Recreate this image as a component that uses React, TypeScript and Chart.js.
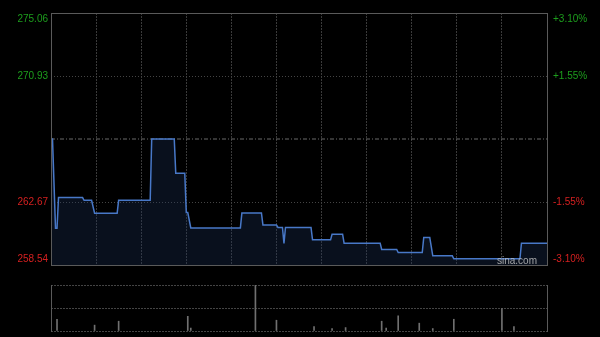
import React, { useEffect, useRef } from 'react';
import { Chart, registerables } from 'chart.js';

Chart.register(...registerables);

// ---- data ----
const prevClose = 266.8;
const priceMin = 258.54;
const priceMax = 275.06;
const priceTicks = [258.54, 262.67, 266.8, 270.93, 275.06];
const priceTickLabels = ['258.54', '262.67', '', '270.93', '275.06'];
const pctTickLabels = ['-3.10%', '-1.55%', '', '+1.55%', '+3.10%'];
const sessionMinutes = 330; // 09:30-12:00 + 13:00-16:00
const gridStepMinutes = 30;

const minuteTimes = [
  0, 1, 3, 4, 5, 21, 22, 27, 29, 44, 45, 66, 67, 82, 83, 89, 90, 91, 93, 126,
  127, 140, 141, 150, 151, 154, 155, 156, 173, 174, 186, 187, 194, 195, 219,
  220, 230, 231, 247, 248, 252, 254, 267, 268, 312, 313, 330,
];
const minutePrices = [
  266.8, 266.8, 260.95, 260.95, 262.96, 262.96, 262.78, 262.78, 261.93, 261.93,
  262.78, 262.78, 266.8, 266.8, 264.56, 264.56, 261.98, 261.98, 260.97, 260.97,
  261.95, 261.95, 261.17, 261.17, 261.0, 261.0, 259.95, 261.0, 261.0, 260.19,
  260.19, 260.56, 260.56, 259.97, 259.97, 259.56, 259.56, 259.36, 259.36,
  260.34, 260.34, 259.14, 259.14, 258.95, 258.95, 259.97, 259.97,
];

const volumeTimes = [4, 29, 45, 91, 93, 136, 150, 175, 187, 196, 220, 223, 231, 245, 254, 268, 300, 308];
const volumes = [12, 6, 10, 15, 3, 47, 11, 4.5, 2.5, 3.5, 10, 3, 15.5, 8, 2.5, 12, 23, 4.5];
const volumeMax = 47;

const watermark = 'sina.com';

// ---- styles ----
const UP = '#1d9e1d';
const DOWN = '#d42020';
const FONT = '10px "Liberation Sans", Arial, sans-serif';
const GRID = '#444444';
const FRAME = '#5a5a5a';

const framePlugin = {
  id: 'frame',
  afterDraw(chart: any) {
    const { ctx, chartArea: a } = chart;
    ctx.save();
    ctx.strokeStyle = FRAME;
    ctx.lineWidth = 1;
    ctx.strokeRect(a.left + 0.5, a.top + 0.5, a.right - a.left, a.bottom - a.top);
    ctx.restore();
  },
};

const sidePlugin = {
  id: 'sides',
  afterDraw(chart: any) {
    const { ctx, chartArea: a } = chart;
    ctx.save();
    ctx.strokeStyle = FRAME;
    ctx.lineWidth = 1;
    ctx.beginPath();
    ctx.moveTo(a.left + 0.5, a.top);
    ctx.lineTo(a.left + 0.5, a.bottom + 1);
    ctx.moveTo(a.right + 0.5, a.top);
    ctx.lineTo(a.right + 0.5, a.bottom + 1);
    ctx.stroke();
    ctx.restore();
  },
};

const labelPlugin = {
  id: 'sideLabels',
  afterDraw(chart: any) {
    const { ctx, chartArea: a, scales } = chart;
    const y = scales.y;
    ctx.save();
    ctx.font = FONT;
    ctx.textBaseline = 'middle';
    const last = priceTicks.length - 1;
    priceTicks.forEach((v, i) => {
      if (!priceTickLabels[i]) return;
      let py = y.getPixelForValue(v);
      if (i === 0) py -= 6;
      if (i === last) py += 6;
      ctx.fillStyle = v > prevClose ? UP : DOWN;
      ctx.textAlign = 'right';
      ctx.fillText(priceTickLabels[i], a.left - 3, py);
      ctx.textAlign = 'left';
      ctx.fillText(pctTickLabels[i], a.right + 6, py);
    });
    ctx.font = '10px "Liberation Sans", Arial, sans-serif';
    ctx.fillStyle = 'rgba(200,200,200,0.8)';
    ctx.textAlign = 'right';
    ctx.textBaseline = 'alphabetic';
    ctx.fillText(watermark, a.right - 10, a.bottom - 1);
    ctx.restore();
  },
};

function mainConfig(): any {
  return {
    type: 'line',
    data: {
      datasets: [
        {
          data: minuteTimes.map((t, i) => ({ x: t, y: minutePrices[i] })),
          borderColor: '#4878c8',
          borderWidth: 1.5,
          pointRadius: 0,
          fill: 'start',
          backgroundColor: 'rgba(30,52,95,0.3)',
          tension: 0,
        },
        {
          data: [
            { x: 0, y: prevClose },
            { x: sessionMinutes, y: prevClose },
          ],
          borderColor: '#6a6a6a',
          borderWidth: 1,
          borderDash: [4, 2, 1, 2],
          pointRadius: 0,
          fill: false,
        },
      ],
    },
    options: {
      animation: false,
      responsive: false,
      events: [],
      layout: { padding: { left: 51, right: 53, top: 13, bottom: 7 } },
      plugins: { legend: { display: false }, tooltip: { enabled: false } },
      scales: {
        x: {
          type: 'linear',
          min: 0,
          max: sessionMinutes,
          ticks: { display: false, stepSize: gridStepMinutes },
          grid: { color: '#3a3a3a', drawTicks: false },
          border: { display: false, dash: [2, 1] },
        },
        y: {
          type: 'linear',
          min: priceMin,
          max: priceMax,
          afterBuildTicks: (s: any) => {
            s.ticks = priceTicks.map((v) => ({ value: v }));
          },
          ticks: { display: false },
          grid: {
            color: (c: any) => (c.tick && Math.abs(c.tick.value - prevClose) < 1e-6 ? 'rgba(0,0,0,0)' : GRID),
            drawTicks: false,
          },
          border: { display: false, dash: [1, 2] },
        },
      },
    },
    plugins: [framePlugin, labelPlugin],
  };
}

function volConfig(): any {
  return {
    type: 'bar',
    data: {
      datasets: [
        {
          data: volumeTimes.map((t, i) => ({ x: t, y: volumes[i] })),
          backgroundColor: '#707070',
          barThickness: 1,
          borderWidth: 0,
        },
      ],
    },
    options: {
      animation: false,
      responsive: false,
      events: [],
      layout: { padding: { left: 51, right: 53, top: 13, bottom: 6 } },
      plugins: { legend: { display: false }, tooltip: { enabled: false } },
      scales: {
        x: {
          type: 'linear',
          min: 0,
          max: sessionMinutes,
          offset: false,
          ticks: { display: false },
          grid: { display: false, drawTicks: false },
          border: { display: false },
        },
        y: {
          type: 'linear',
          min: 0,
          max: volumeMax,
          afterBuildTicks: (s: any) => {
            s.ticks = [0, volumeMax / 2, volumeMax].map((v) => ({ value: v }));
          },
          ticks: { display: false },
          grid: { color: GRID, drawTicks: false },
          border: { display: false, dash: [2, 1] },
        },
      },
    },
    plugins: [sidePlugin],
  };
}

export default function App() {
  const mainRef = useRef<HTMLCanvasElement>(null);
  const volRef = useRef<HTMLCanvasElement>(null);
  useEffect(() => {
    const c1 = new Chart(mainRef.current as HTMLCanvasElement, mainConfig());
    const c2 = new Chart(volRef.current as HTMLCanvasElement, volConfig());
    return () => {
      c1.destroy();
      c2.destroy();
    };
  }, []);
  return (
    <div style={{ position: 'fixed', left: 0, top: 0, width: 600, height: 337, background: '#000' }}>
      <canvas ref={mainRef} width={600} height={272} style={{ position: 'absolute', left: 0, top: 0 }} />
      <canvas ref={volRef} width={600} height={65} style={{ position: 'absolute', left: 0, top: 272 }} />
    </div>
  );
}
